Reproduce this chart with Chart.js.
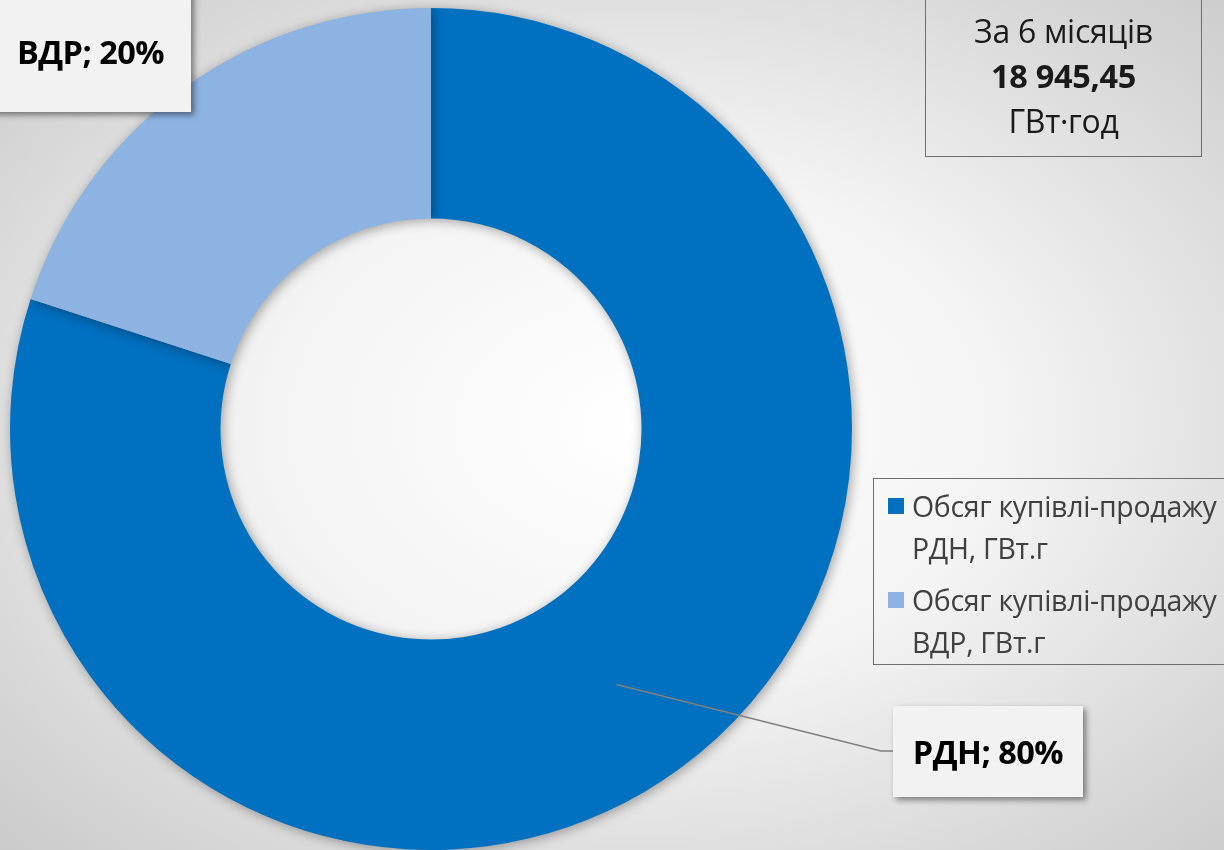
<!DOCTYPE html>
<html>
<head>
<meta charset="utf-8">
<script src="https://cdn.jsdelivr.net/npm/chart.js@4.4.0/dist/chart.umd.min.js"></script>
<style>
  html, body { margin:0; padding:0; }
  body {
    width:1224px; height:850px; overflow:hidden; position:relative;
    background: radial-gradient(ellipse 75% 75% at 52% 50%, #ffffff 0%, #f4f4f4 40%, #d6d6d6 80%, #c8c8c8 100%);
    font-family: "Open Sans", "Noto Sans", sans-serif;
  }
  #c { position:absolute; left:0; top:0; }
  .lbl {
    position:absolute; background:#f2f2f2; box-shadow: 3px 3px 6px rgba(0,0,0,0.45);
    font-weight:700; color:#000; display:flex; align-items:center; justify-content:center;
    letter-spacing:-0.5px;
  }
  #lblVDR { left:-10px; top:-10px; width:201px; height:122px; font-size:32.5px; }
  #lblRDN { left:893px; top:706px; width:190px; height:91px; font-size:32.5px; }
  #total {
    position:absolute; left:925px; top:-2px; width:277px; height:159px; box-sizing:border-box;
    border:1.5px solid #6e6e6e; text-align:center; color:#1a1a1a; font-size:32px; line-height:45px; padding-top:9px;
    letter-spacing:-0.3px;
  }
  #total b { font-size:32.5px; }
  #legend {
    position:absolute; left:873px; top:478px; width:380px; height:187px; box-sizing:border-box;
    border:1.5px solid #6e6e6e; color:#404040; font-size:28.5px; letter-spacing:-0.3px;
  }
  .li { position:absolute; left:38px; line-height:42px; white-space:nowrap; }
  .li .sw { position:absolute; left:-24px; top:13px; width:16px; height:16px; }
</style>
</head>
<body>
<canvas id="c" width="1224" height="850"></canvas>
<div class="lbl" id="lblVDR"></div>
<div class="lbl" id="lblRDN"></div>
<div id="total"></div>
<div id="legend"></div>
<script>
// ---- data ----
const categories = ["Обсяг купівлі-продажу РДН, ГВт.г", "Обсяг купівлі-продажу ВДР, ГВт.г"];
const shortNames = ["РДН", "ВДР"];
const shares = [80, 20];
const colors = ["#0070c0", "#8db3e2"];
const totalLines = ["За 6 місяців", "18 945,45", "ГВт·год"];

// ---- text boxes ----
const sum = shares.reduce((a, b) => a + b, 0);
const pct = shares.map(v => Math.round(v / sum * 100));
document.getElementById('lblRDN').textContent = shortNames[0] + '; ' + pct[0] + '%';
document.getElementById('lblVDR').textContent = shortNames[1] + '; ' + pct[1] + '%';
const tot = document.getElementById('total');
totalLines.forEach((t, i) => {
  const d = document.createElement('div');
  if (i === 1) { const b = document.createElement('b'); b.textContent = t; d.appendChild(b); } else d.textContent = t;
  tot.appendChild(d);
});
const leg = document.getElementById('legend');
const itemTops = [6, 100];
categories.forEach((c, i) => {
  const d = document.createElement('div');
  d.className = 'li';
  d.style.top = itemTops[i] + 'px';
  const sw = document.createElement('span'); sw.className = 'sw'; sw.style.background = colors[i];
  d.appendChild(sw);
  const parts = c.split(' ');
  const t1 = document.createElement('div'); t1.textContent = parts.slice(0, 2).join(' ');
  const t2 = document.createElement('div'); t2.textContent = parts.slice(2).join(' ');
  d.appendChild(t1); d.appendChild(t2);
  leg.appendChild(d);
});

// ---- chart ----
const shadowPlugin = {
  id: 'shadow',
  beforeDatasetDraw(chart) {
    const ctx = chart.ctx; ctx.save();
    ctx.shadowColor = 'rgba(0,0,0,0.35)'; ctx.shadowBlur = 12; ctx.shadowOffsetX = 2; ctx.shadowOffsetY = 2;
  },
  afterDatasetDraw(chart) { chart.ctx.restore(); }
};
const leaderPlugin = {
  id: 'leader',
  afterDraw(chart) {
    const arc = chart.getDatasetMeta(0).data[0];
    const p = arc.tooltipPosition();
    const ctx = chart.ctx;
    ctx.save();
    ctx.strokeStyle = '#808080'; ctx.lineWidth = 1.5;
    ctx.beginPath(); ctx.moveTo(p.x, p.y); ctx.lineTo(881, 751); ctx.lineTo(893, 751); ctx.stroke();
    ctx.restore();
  }
};
new Chart(document.getElementById('c'), {
  type: 'doughnut',
  data: { labels: categories, datasets: [{ data: shares, backgroundColor: colors, borderWidth: 0 }] },
  options: {
    responsive: false, animation: false, cutout: '50%',
    layout: { padding: { left: 10, top: 8, right: 372, bottom: 0 } },
    plugins: { legend: { display: false }, tooltip: { enabled: false } }
  },
  plugins: [shadowPlugin, leaderPlugin]
});
</script>
</body>
</html>
